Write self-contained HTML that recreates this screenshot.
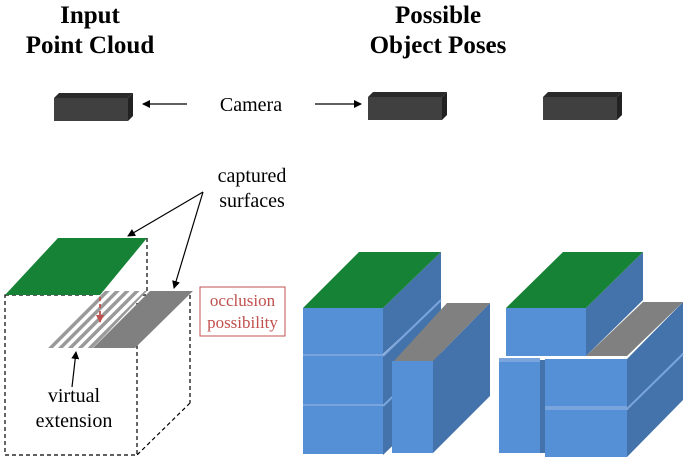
<!DOCTYPE html>
<html><head><meta charset="utf-8"><style>
html,body{margin:0;padding:0;background:#fff;}
svg{display:block;}
text{font-family:"Liberation Serif",serif;}
</style></head><body>
<svg width="685" height="460" viewBox="0 0 685 460" xmlns="http://www.w3.org/2000/svg">
<defs>
<marker id="ah" markerWidth="8" markerHeight="8" refX="7" refY="4" orient="auto" markerUnits="userSpaceOnUse"><path d="M0,0 L8,4 L0,8 z" fill="#000"/></marker>
<marker id="ahr" markerWidth="8" markerHeight="8" refX="7" refY="4" orient="auto" markerUnits="userSpaceOnUse"><path d="M0,0 L8,4 L0,8 z" fill="#c0504d"/></marker>
<pattern id="hatch" width="7" height="7" patternUnits="userSpaceOnUse" patternTransform="rotate(45)"><rect width="7" height="7" fill="#fff"/><rect width="3.5" height="7" fill="#9a9a9a"/></pattern>
</defs>
<!-- titles -->
<text x="90" y="23" font-size="25" font-weight="bold" text-anchor="middle">Input</text>
<text x="90" y="53" font-size="25" font-weight="bold" text-anchor="middle">Point Cloud</text>
<text x="438" y="23" font-size="25" font-weight="bold" text-anchor="middle">Possible</text>
<text x="438" y="53" font-size="25" font-weight="bold" text-anchor="middle">Object Poses</text>
<!-- cameras -->
<g id="cam">
<polygon points="54,98 128,98 133,93 59,93" fill="#2a2a2a"/>
<polygon points="128,98 133,93 133,116 128,121" fill="#222"/>
<rect x="54" y="98" width="74" height="23" fill="#404040"/>
</g>
<use href="#cam" x="314" y="-1"/>
<use href="#cam" x="489" y="-1"/>
<text x="251" y="111" font-size="20" text-anchor="middle">Camera</text>
<line x1="187" y1="104" x2="143" y2="104" stroke="#000" stroke-width="1.3" marker-end="url(#ah)"/>
<line x1="315" y1="104" x2="361" y2="104" stroke="#000" stroke-width="1.3" marker-end="url(#ah)"/>
<!-- captured surfaces -->
<text x="252" y="182" font-size="20" text-anchor="middle">captured</text>
<text x="252" y="207" font-size="20" text-anchor="middle">surfaces</text>
<line x1="203" y1="192" x2="128" y2="236" stroke="#000" stroke-width="1.2" marker-end="url(#ah)"/>
<line x1="203" y1="192" x2="174" y2="288" stroke="#000" stroke-width="1.2" marker-end="url(#ah)"/>
<!-- left dashed box -->
<g fill="none" stroke="#000" stroke-width="1.2" stroke-dasharray="4,3">
<rect x="5" y="295" width="132" height="160"/>
<line x1="147" y1="238" x2="147" y2="293"/>
<line x1="190" y1="295" x2="190" y2="403"/>
<line x1="190" y1="403" x2="137" y2="455"/>
<line x1="100" y1="295" x2="150" y2="295"/>
</g>
<polygon points="48,348 93,348 147,291 100,291" fill="url(#hatch)"/>
<polygon points="93,348 135,348 193,291 150,291" fill="#808080"/>
<polygon points="5,295 100,295 147,238 58,238" fill="#168236"/>
<line x1="100" y1="297" x2="100" y2="322" stroke="#c0504d" stroke-width="1.8" stroke-dasharray="4,3" marker-end="url(#ahr)"/>
<rect x="200" y="287" width="85" height="49" fill="#fff" stroke="#c0504d" stroke-width="1"/>
<text x="242.5" y="306" font-size="17" fill="#c0504d" text-anchor="middle">occlusion</text>
<text x="242.5" y="328" font-size="17" fill="#c0504d" text-anchor="middle">possibility</text>
<text x="74" y="402" font-size="20" text-anchor="middle">virtual</text>
<text x="74" y="427" font-size="20" text-anchor="middle">extension</text>
<line x1="72" y1="387" x2="76" y2="352" stroke="#000" stroke-width="1.2" marker-end="url(#ah)"/>
<!-- left stack -->
<g>
<polygon points="383,406 441,350 441,399 383,455" fill="#4472aa"/>
<polygon points="383,356 441,300 441,350 383,406" fill="#4472aa"/>
<polygon points="383,308 441,252 441,300 383,354" fill="#4472aa"/>
<line x1="383" y1="356" x2="441" y2="300" stroke="#7aa5dc" stroke-width="2"/>
<line x1="383" y1="406" x2="441" y2="350" stroke="#7aa5dc" stroke-width="2"/>
<rect x="303" y="308" width="80" height="46" fill="#5590d6"/>
<rect x="303" y="356" width="80" height="48" fill="#5590d6"/>
<rect x="303" y="406" width="80" height="48" fill="#5590d6"/>
<rect x="303" y="354" width="80" height="2" fill="#7aa5dc"/>
<rect x="303" y="404" width="80" height="2" fill="#7aa5dc"/>
<polygon points="303,308 383,308 441,252 359,252" fill="#168236"/>
<polygon points="433,361 490,303 490,396 433,453" fill="#4472aa"/>
<rect x="392" y="361" width="41" height="92" fill="#5590d6"/>
<polygon points="394,361 433,361 490,303 447,303" fill="#808080"/>
</g>
<!-- right stack -->
<g>
<polygon points="586,308 643,252 643,300 586,356" fill="#4472aa"/>
<rect x="506" y="308" width="80" height="48" fill="#5590d6"/>
<polygon points="506,308 586,308 643,252 563,252" fill="#168236"/>
<polygon points="627,359 683,302 683,353 627,408" fill="#4472aa"/>
<polygon points="627,410 683,355 683,400 627,457" fill="#4472aa"/>
<line x1="627" y1="409" x2="683" y2="354" stroke="#7aa5dc" stroke-width="2"/>
<rect x="540" y="360" width="6" height="93" fill="#4472aa"/>
<rect x="499" y="362" width="41" height="91" fill="#5590d6"/>
<rect x="499" y="358" width="41" height="4" fill="#7aa5dc"/>
<rect x="545" y="359" width="82" height="47" fill="#5590d6"/>
<rect x="545" y="406" width="82" height="4" fill="#7aa5dc"/>
<rect x="545" y="410" width="82" height="47" fill="#5590d6"/>
<polygon points="586,356 627,356 683,302 643,302" fill="#808080"/>
</g>
</svg>
</body></html>
